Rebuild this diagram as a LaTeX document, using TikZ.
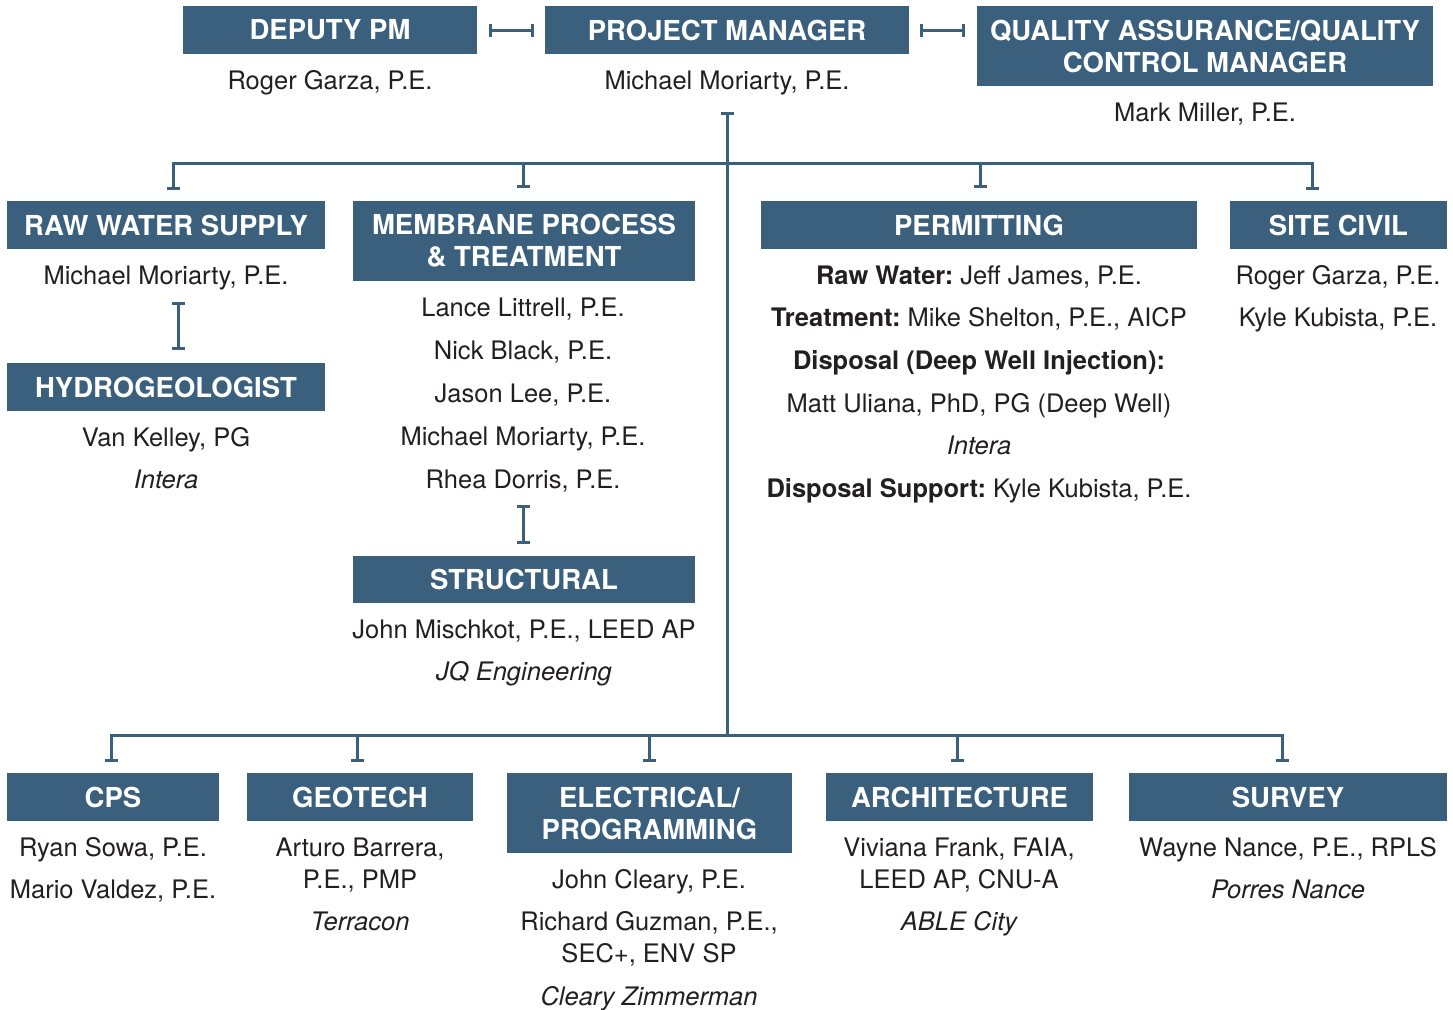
\documentclass[tikz,border=0pt]{standalone}
\usepackage{fontspec}
\setmainfont{TeX Gyre Heros}
\usetikzlibrary{arrows.meta}
\definecolor{boxblue}{HTML}{3A607E}
\definecolor{inkgray}{HTML}{231F20}
\frenchspacing

\begin{document}
\begin{tikzpicture}[x=1pt,y=-1pt]
\tikzstyle{every node}+=[inner sep=0pt]
\tikzstyle{head}=[fill=boxblue, text=white, align=center, font=\bfseries\fontsize{27.5}{32}\selectfont]
\tikzstyle{who}=[text=inkgray, anchor=base, font=\fontsize{25.5}{30}\selectfont]
\tikzstyle{firm}=[who, font=\itshape\fontsize{25.5}{30}\selectfont]
\tikzstyle{link}=[draw=boxblue, line width=3pt]
\tikzstyle{tee}=[link, -{Bar[width=13pt]}]
\tikzstyle{span}=[link, {Bar[width=13pt]}-{Bar[width=13pt]}]
\useasboundingbox (0,0) rectangle (1453,1009);
% top row
\node [head, minimum width=294, minimum height=48] (dpm) at (330,30) {DEPUTY PM};
\node [head, minimum width=364, minimum height=48] (pm) at (727,30) {PROJECT MANAGER};
\node [head, minimum width=456, minimum height=80] (qa) at (1205,46) {QUALITY ASSURANCE/QUALITY\\CONTROL MANAGER};
\node [who] (dpm1) at (330,89) {Roger Garza, P.E.};
\node [who] (pm1) at (727,89) {Michael Moriarty, P.E.};
\node [who] (qa1) at (1205,121) {Mark Miller, P.E.};
% second row
\node [head, minimum width=318, minimum height=48] (raw) at (166,225) {RAW WATER SUPPLY};
\node [head, minimum width=318, minimum height=48] (hydro) at (166,387) {HYDROGEOLOGIST};
\node [head, minimum width=342, minimum height=80] (memb) at (524,241) {MEMBRANE PROCESS\\\& TREATMENT};
\node [head, minimum width=342, minimum height=47] (struct) at (524,579.5) {STRUCTURAL};
\node [head, minimum width=436, minimum height=48] (perm) at (979,225) {PERMITTING};
\node [head, minimum width=217, minimum height=48] (site) at (1338.5,225) {SITE CIVIL};
\node [who] (raw1) at (166,284) {Michael Moriarty, P.E.};
\node [who] (hydro1) at (166,446) {Van Kelley, PG};
\node [firm] (hydro2) at (166,488) {Intera};
\foreach \t [count=\i] in {{Lance Littrell, P.E.}, {Nick Black, P.E.}, {Jason Lee, P.E.}, {Michael Moriarty, P.E.}, {Rhea Dorris, P.E.}}
  \node [who] (memb\i) at (523,273+43*\i) {\t};
\node [who] (struct1) at (524,638) {John Mischkot, P.E., LEED AP};
\node [firm] (struct2) at (524,680) {JQ Engineering};
\node [who] (perm1) at (979,284) {\textbf{Raw Water:} Jeff James, P.E.};
\node [who] (perm2) at (979,326) {\textbf{Treatment:} Mike Shelton, P.E., AICP};
\node [who] (perm3) at (979,369) {\textbf{Disposal (Deep Well Injection):}};
\node [who] (perm4) at (979,412) {Matt Uliana, PhD, PG (Deep Well)};
\node [firm] (perm5) at (979,454) {Intera};
\node [who] (perm6) at (979,497) {\textbf{Disposal Support:} Kyle Kubista, P.E.};
\node [who] (site1) at (1338,284) {Roger Garza, P.E.};
\node [who] (site2) at (1338,326) {Kyle Kubista, P.E.};
% bottom row
\node [head, minimum width=212, minimum height=48] (cps) at (113,797) {CPS};
\node [head, minimum width=226, minimum height=48] (geo) at (360,797) {GEOTECH};
\node [head, minimum width=285, minimum height=80] (elec) at (649.5,813) {ELECTRICAL/\\PROGRAMMING};
\node [head, minimum width=267, minimum height=48] (arch) at (959.5,797) {ARCHITECTURE};
\node [head, minimum width=318, minimum height=48] (survey) at (1288,797) {SURVEY};
\node [who] (cps1) at (113,856) {Ryan Sowa, P.E.};
\node [who] (cps2) at (113,898) {Mario Valdez, P.E.};
\node [who] (geo1) at (360,856) {Arturo Barrera,};
\node [who] (geo2) at (360,888) {P.E., PMP};
\node [firm] (geo3) at (360,930) {Terracon};
\node [who] (elec1) at (649,888) {John Cleary, P.E.};
\node [who] (elec2) at (649,930) {Richard Guzman, P.E.,};
\node [who] (elec3) at (649,962) {SEC+, ENV SP};
\node [firm] (elec4) at (649,1005) {Cleary Zimmerman};
\node [who] (arch1) at (959,856) {Viviana Frank, FAIA,};
\node [who] (arch2) at (959,888) {LEED AP, CNU-A};
\node [firm] (arch3) at (959,930) {ABLE City};
\node [who] (survey1) at (1288,856) {Wayne Nance, P.E., RPLS};
\node [firm] (survey2) at (1288,898) {Porres Nance};
% connectors
\coordinate (top) at (727,112);
\coordinate (bus1) at (727,163);
\coordinate (bus2) at (727,735);
\draw [span] ([xshift=12]dpm.east) -- ([xshift=-11]pm.west);
\draw [span] ([xshift=11]pm.east) -- ([xshift=-12]qa.west |- pm.east);
\draw [link, {Bar[width=13pt]}-] (top) -- (bus2);
\draw [tee] (bus1) -| ([xshift=7,yshift=11]raw.north);
\draw [tee] (bus1) -| ([xshift=-1,yshift=13]memb.north);
\draw [tee] (bus1) -| ([xshift=1,yshift=13]perm.north);
\draw [tee] (bus1) -| ([xshift=-26,yshift=11]site.north);
\draw [span] ([xshift=12,yshift=61]hydro.north) -- ([xshift=12,yshift=13]hydro.north);
\draw [span] ([xshift=-1,yshift=51]struct.north) -- ([xshift=-1,yshift=12]struct.north);
\draw [tee] (bus2) -| ([xshift=-2,yshift=11]cps.north);
\draw [tee] (bus2) -| ([xshift=-3,yshift=11]geo.north);
\draw [tee] (bus2) -| ([xshift=-0.5,yshift=11]elec.north);
\draw [tee] (bus2) -| ([xshift=-2.5,yshift=11]arch.north);
\draw [tee] (bus2) -| ([xshift=-6,yshift=11]survey.north);
\end{tikzpicture}
\end{document}
